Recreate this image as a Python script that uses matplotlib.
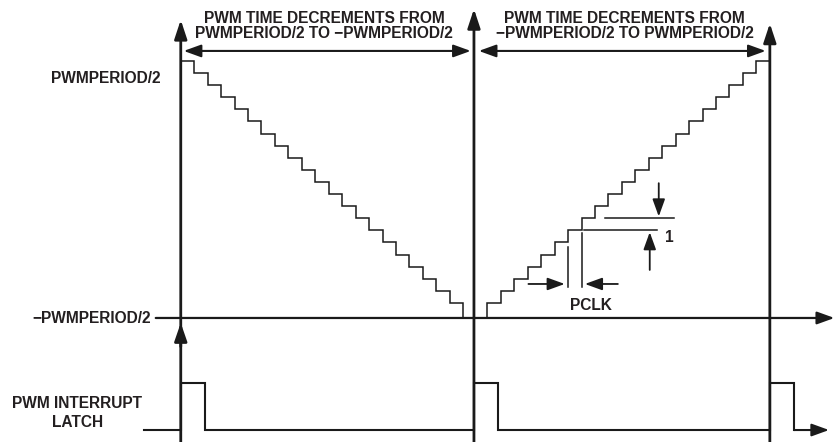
import numpy as np
import matplotlib.pyplot as plt

plt.rcParams['font.family'] = ['Liberation Sans', 'DejaVu Sans']

# PWM timer counter values (one per PCLK step)
left_counts = [20, 19, 18, 17, 16, 15, 14, 13, 12, 11, 10, 9, 8, 7, 6, 5, 4, 3, 2, 1, 0]
right_counts = [0, 1, 2, 3, 4, 5, 6, 7, 8, 9, 10, 11, 12, 13, 14, 15, 16, 17, 18, 19, 20]
sync_times = [0, 21.8, 43.8]          # PWMSYNC instants in PCLK units
right_start = 22.8                    # first count of the rising ramp
pulse_width = 1.8
axis_level = -1.24                    # -PWMPERIOD/2 line
latch_low, latch_high = -10.5, -6.6

ink = '#1a1a1a'
txt = '#231f20'
fs = 11.2

fig = plt.figure(figsize=(8.34, 4.42), dpi=100)
ax = fig.add_axes([0, 0, 1, 1])
ax.set_xlim(-13.44, 48.57)
ax.set_ylim(-11.49, 25.04)
ax.axis('off')


def arrow(x0, y0, x1, y1, lw=1.5, hl=1.05, hw=0.38, style='-|>'):
    ax.annotate('', xy=(x1, y1), xytext=(x0, y0),
                arrowprops=dict(arrowstyle='%s,head_length=%s,head_width=%s' % (style, hl, hw),
                                color=ink, lw=lw, shrinkA=0, shrinkB=0,
                                mutation_scale=10))


# counter ramps
left_edges = sync_times[0] + np.arange(len(left_counts) + 1)
right_edges = right_start + np.arange(len(right_counts) + 1)
ax.stairs(left_counts, left_edges, baseline=axis_level, color=ink, lw=1.1)
ax.stairs(right_counts, right_edges, baseline=axis_level, color=ink, lw=1.1)

# sync verticals with arrow heads
tops = [23.4, 24.3, 23.1]
for t, top in zip(sync_times, tops):
    arrow(t, -11.6, t, top, lw=2.0, hl=1.15)
arrow(0, -3.6, 0, -1.65, lw=2.0, hl=1.1)

# -PWMPERIOD/2 axis
arrow(-1.86, axis_level, 48.6, axis_level, lw=1.6)

# interrupt latch
lt = [-2.75]
lv = [latch_low]
for s in sync_times:
    lt += [s, s, s + pulse_width, s + pulse_width]
    lv += [latch_low, latch_high, latch_high, latch_low]
ax.plot(lt, lv, color=ink, lw=1.5, solid_joinstyle='miter')
arrow(lt[-1], latch_low, 48.2, latch_low, lw=1.5)

# period span arrows
arrow(21.56, 20.83, 0.22, 20.83, lw=1.5, style='<|-|>')
arrow(43.49, 20.83, 22.16, 20.83, lw=1.5, style='<|-|>')

kw = dict(color=txt, fontsize=fs, fontweight='bold', va='baseline')
ax.text(10.67, 23.1, 'PWM TIME DECREMENTS FROM', ha='center', **kw)
ax.text(10.67, 21.86, 'PWMPERIOD/2 TO \u2212PWMPERIOD/2', ha='center', **kw)
ax.text(33.0, 23.1, 'PWM TIME DECREMENTS FROM', ha='center', **kw)
ax.text(33.0, 21.86, '\u2212PWMPERIOD/2 TO PWMPERIOD/2', ha='center', **kw)
ax.text(-1.49, 18.18, 'PWMPERIOD/2', ha='right', **kw)
ax.text(-2.23, -1.69, '\u2212PWMPERIOD/2', ha='right', **kw)
ax.text(-7.68, -8.72, 'PWM INTERRUPT', ha='center', **kw)
ax.text(-7.68, -10.21, 'LATCH', ha='center', **kw)

# PCLK dimension
e6, e7 = right_edges[6], right_edges[7]
ax.plot([e6, e6], [right_counts[5] - 0.4, 1.32], color=ink, lw=1.1)
ax.plot([e7, e7], [right_counts[6] - 0.2, 1.32], color=ink, lw=1.1)
arrow(e6 - 2.95, 1.57, e6 - 0.25, 1.57, lw=1.3)
arrow(e7 + 2.7, 1.57, e7 + 0.25, 1.57, lw=1.3)
ax.text(30.5, -0.58, 'PCLK', ha='center', **kw)

# 1-count dimension
ax.plot([right_edges[8] + 0.75, 36.7], [right_counts[7]] * 2, color=ink, lw=1.1)
ax.plot([right_edges[7] + 0.2, 35.4], [right_counts[6]] * 2, color=ink, lw=1.1)
arrow(35.54, 9.9, 35.54, right_counts[7] + 0.15, lw=1.3)
arrow(34.87, 2.73, 34.87, right_counts[6] - 0.15, lw=1.3)
ax.text(36.36, 5.08, '1', ha='center', **kw)

fig.savefig('out.png', dpi=100)
